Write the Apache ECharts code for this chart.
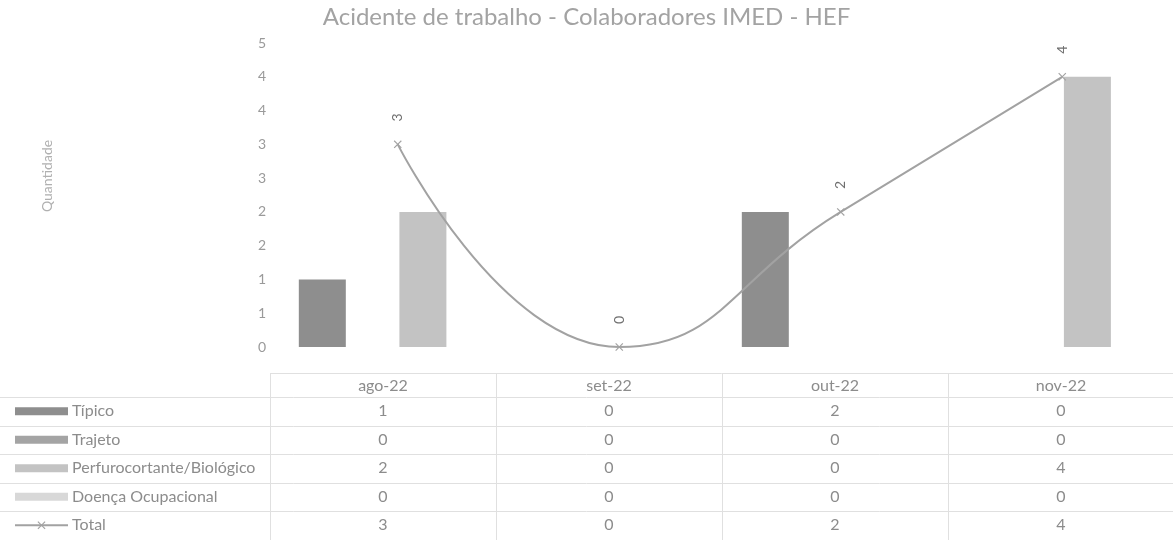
<!DOCTYPE html>
<html>
<head>
<meta charset="utf-8">
<script src="https://cdn.jsdelivr.net/npm/echarts@6/dist/echarts.min.js"></script>
<style>
  html, body { margin: 0; padding: 0; background: #ffffff; }
  #chart { width: 1173px; height: 540px; }
</style>
</head>
<body>
<div id="chart"></div>
<script>
// Monthly work accidents by type, with the monthly total
const categories = ['ago-22', 'set-22', 'out-22', 'nov-22'];
const seriesNames = ['Típico', 'Trajeto', 'Perfurocortante/Biológico', 'Doença Ocupacional', 'Total'];
const tipico = [1, 0, 2, 0];
const trajeto = [0, 0, 0, 0];
const perfurocortante = [2, 0, 0, 4];
const doencaOcupacional = [0, 0, 0, 0];
const total = [3, 0, 2, 4];
const yMin = 0;
const yMax = 4.5;
const yStep = 0.5;

const FONT = 'Lato, "Liberation Sans", sans-serif';
const TEXT = '#8c8c8c';
const barColors = ['#8e8e8e', '#a4a4a4', '#c3c3c3', '#d8d8d8'];
const lineColor = '#a2a2a2';
const crossPath = 'path://M0,1L1,0L5,4L9,0L10,1L6,5L10,9L9,10L5,6L1,10L0,9L4,5Z';

// Cross-shaped polygon centred on (cx, cy), half-size h
function crossPoints(cx, cy, h) {
  const u = [[0,1],[1,0],[5,4],[9,0],[10,1],[6,5],[10,9],[9,10],[5,6],[1,10],[0,9],[4,5]];
  return u.map(p => [cx - h + p[0] * h / 5, cy - h + p[1] * h / 5]);
}

const chart = echarts.init(document.getElementById('chart'), null, { renderer: 'canvas' });

const barSeries = [tipico, trajeto, perfurocortante, doencaOcupacional].map((data, i) => ({
  name: seriesNames[i],
  type: 'bar',
  data: data,
  barWidth: 47,
  barGap: '7%',
  itemStyle: { color: barColors[i] },
  emphasis: { disabled: true }
}));

// Data table beneath the plot: header row, legend keys and values
const tableTop = 373;
const headerBottom = 397;
const rowH = 28.5;
const colLeft = 270;
const colW = 226;
const rowValues = [tipico, trajeto, perfurocortante, doencaOcupacional, total];
const TABLE_FONT = '16px ' + FONT;

const graphics = [];
const gridLine = { stroke: '#e0e0e0', lineWidth: 1 };
graphics.push({ type: 'line', shape: { x1: colLeft, y1: tableTop + 0.5, x2: 1173, y2: tableTop + 0.5 }, style: gridLine, silent: true });
for (let r = 0; r <= 5; r++) {
  const y = Math.round(headerBottom + r * rowH) + 0.5;
  graphics.push({ type: 'line', shape: { x1: 0, y1: y, x2: 1173, y2: y }, style: gridLine, silent: true });
}
for (let c = 0; c < categories.length; c++) {
  const x = colLeft + c * colW + 0.5;
  graphics.push({ type: 'line', shape: { x1: x, y1: tableTop, x2: x, y2: 540 }, style: gridLine, silent: true });
  graphics.push({
    type: 'text', x: colLeft + c * colW + colW / 2, y: (tableTop + headerBottom) / 2 + 1,
    style: { text: categories[c], font: TABLE_FONT, fill: TEXT, textAlign: 'center', textVerticalAlign: 'middle' },
    silent: true
  });
}
for (let r = 0; r < seriesNames.length; r++) {
  const cy = headerBottom + r * rowH + rowH / 2;
  if (r < 4) {
    graphics.push({ type: 'rect', shape: { x: 15, y: cy - 4, width: 53, height: 8 }, style: { fill: barColors[r] }, silent: true });
  } else {
    graphics.push({ type: 'line', shape: { x1: 15, y1: cy, x2: 68, y2: cy }, style: { stroke: lineColor, lineWidth: 2 }, silent: true });
    graphics.push({ type: 'polygon', shape: { points: crossPoints(41.5, cy, 4) }, style: { fill: lineColor }, silent: true });
  }
  graphics.push({
    type: 'text', x: 72, y: cy,
    style: { text: seriesNames[r], font: TABLE_FONT, fill: TEXT, textAlign: 'left', textVerticalAlign: 'middle' },
    silent: true
  });
  for (let c = 0; c < categories.length; c++) {
    graphics.push({
      type: 'text', x: colLeft + c * colW + colW / 2, y: cy,
      style: { text: String(rowValues[r][c]), font: TABLE_FONT, fill: TEXT, textAlign: 'center', textVerticalAlign: 'middle' },
      silent: true
    });
  }
}
// Value axis title
graphics.push({
  type: 'text', x: 47, y: 176, rotation: Math.PI / 2,
  style: { text: 'Quantidade', font: '14px ' + FONT, fill: '#b0b0b0', textAlign: 'center', textVerticalAlign: 'middle' },
  silent: true
});

chart.setOption({
  animation: false,
  backgroundColor: '#ffffff',
  title: {
    text: 'Acidente de trabalho - Colaboradores IMED - HEF',
    left: 'center',
    top: 0,
    textStyle: { fontFamily: FONT, fontSize: 24, fontWeight: 'normal', color: '#a3a3a3' }
  },
  grid: { left: 287, right: -2, top: 43, bottom: 193, containLabel: false },
  xAxis: {
    type: 'category',
    data: categories,
    axisLine: { show: false },
    axisTick: { show: false },
    axisLabel: { show: false },
    splitLine: { show: false }
  },
  yAxis: {
    type: 'value',
    min: yMin,
    max: yMax,
    interval: yStep,
    axisLine: { show: false },
    axisTick: { show: false },
    splitLine: { show: false },
    axisLabel: {
      margin: 21,
      color: '#9a9a9a',
      fontFamily: FONT,
      fontSize: 14,
      formatter: v => String(Math.round(v))
    }
  },
  series: barSeries.concat([{
    name: 'Total',
    type: 'line',
    data: total,
    smooth: 0.5,
    symbol: crossPath,
    symbolSize: 8,
    showAllSymbol: true,
    lineStyle: { color: lineColor, width: 2 },
    itemStyle: { color: lineColor },
    label: {
      show: true,
      position: 'top',
      distance: 23,
      rotate: 90,
      align: 'center',
      verticalAlign: 'middle',
      color: '#6f6f6f',
      fontFamily: FONT,
      fontSize: 14
    },
    emphasis: { disabled: true },
    z: 5
  }]),
  graphic: graphics
});
</script>
</body>
</html>
